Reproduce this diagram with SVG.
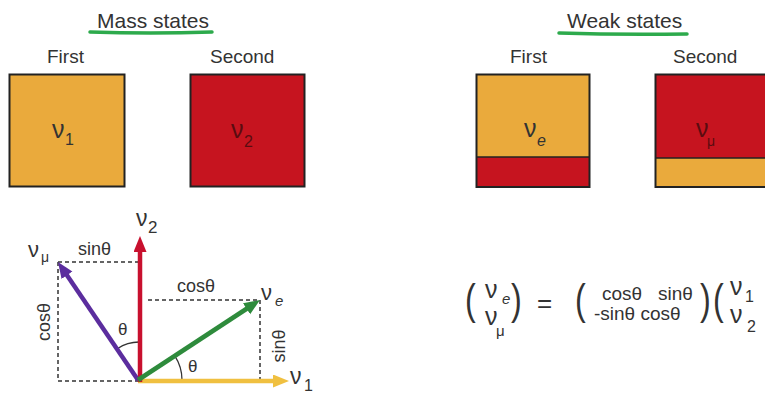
<svg xmlns="http://www.w3.org/2000/svg" width="765" height="394" viewBox="0 0 765 394">
<style>
  text { font-family: "Liberation Sans", Arial, sans-serif; fill: #333; }
  .title { font-size: 21px; }
  .hdr { font-size: 19px; }
  .nu { font-size: 25px; }
  .sub { font-size: 16px; }
  .it { font-style: italic; }
  .lbl { font-size: 18px; }
  .mat { font-size: 19px; }
  .box { stroke: #222; stroke-width: 2; }
  .orange { fill: #EAAA3C; }
  .red { fill: #C6141F; }
  .dash { fill: none; stroke: #333; stroke-width: 1.5; stroke-dasharray: 4 3; }
  .arc { fill: none; stroke: #333; stroke-width: 1.3; }
  .ul { fill: none; stroke: #2DAA4C; stroke-width: 3.5; stroke-linecap: round; }
  .vec { fill: none; stroke-width: 4.5; }
  .par { font-size: 38px; }
</style>
<defs>
  <marker id="hY" markerUnits="userSpaceOnUse" markerWidth="18" markerHeight="14" refX="6" refY="6.5" orient="auto"><path d="M0,0 L16,6.5 L0,13 z" fill="#F0C040"/></marker>
  <marker id="hR" markerUnits="userSpaceOnUse" markerWidth="18" markerHeight="14" refX="6" refY="6.5" orient="auto"><path d="M0,0 L16,6.5 L0,13 z" fill="#C8102E"/></marker>
  <marker id="hP" markerUnits="userSpaceOnUse" markerWidth="18" markerHeight="14" refX="6" refY="6.5" orient="auto"><path d="M0,0 L16,6.5 L0,13 z" fill="#5B2D9E"/></marker>
  <marker id="hG" markerUnits="userSpaceOnUse" markerWidth="18" markerHeight="14" refX="6" refY="6.5" orient="auto"><path d="M0,0 L16,6.5 L0,13 z" fill="#2E8B3C"/></marker>
</defs>
<rect width="765" height="394" fill="#FFFFFF"/>

<g id="mass-title">
  <text class="title" x="97" y="28">Mass states</text>
  <path class="ul" d="M90,32 Q150,34 212,32"/>
</g>
<g id="weak-title">
  <text class="title" x="567" y="28">Weak states</text>
  <path class="ul" d="M559,33 Q620,35 687,34"/>
</g>

<g id="mass-first">
  <text class="hdr" x="47" y="63">First</text>
  <rect class="box orange" x="9.5" y="74.5" width="115" height="112"/>
  <text class="nu" x="52" y="138">ν</text><text class="sub" x="65" y="145">1</text>
</g>
<g id="mass-second">
  <text class="hdr" x="210" y="63">Second</text>
  <rect class="box red" x="190.5" y="74.5" width="114" height="112"/>
  <text class="nu" x="231" y="138" style="fill:#5a0c10">ν</text><text class="sub" x="244" y="147" style="fill:#5a0c10">2</text>
</g>
<g id="weak-first">
  <text class="hdr" x="510" y="63">First</text>
  <rect class="orange" x="476" y="75" width="114" height="82"/>
  <rect class="red" x="476" y="157" width="114" height="30"/>
  <line x1="476" y1="157" x2="590" y2="157" stroke="#222" stroke-width="1.5"/>
  <rect class="box" fill="none" x="476.5" y="74.5" width="113" height="112.5"/>
  <text class="nu" x="524" y="137">ν</text><text class="sub it" x="537" y="146">e</text>
</g>
<g id="weak-second">
  <text class="hdr" x="673" y="63">Second</text>
  <rect class="red" x="655" y="75" width="115" height="83"/>
  <rect class="orange" x="655" y="158" width="115" height="29"/>
  <line x1="655" y1="158" x2="770" y2="158" stroke="#222" stroke-width="1.5"/>
  <rect class="box" fill="none" x="655.5" y="74.5" width="120" height="112.5"/>
  <text class="nu" x="696" y="137" style="fill:#5a0c10">ν</text><text class="sub" x="707" y="146" style="font-size:14px;fill:#5a0c10">μ</text>
</g>

<g id="projections">
  <path class="dash" d="M58,262 H138 M58,262 V381 H138"/>
  <path class="dash" d="M148,300 H260 V380"/>
  <path class="arc" d="M117.7,348.5 A38,38 0 0 1 139,342"/>
  <path class="arc" d="M182,380 A44,44 0 0 0 174.8,355.9"/>
</g>

<g id="connectors">
  <line class="vec" x1="138" y1="381" x2="279" y2="381" stroke="#F0C040" marker-end="url(#hY)"/>
  <line class="vec" x1="140" y1="382" x2="140" y2="246" stroke="#C8102E" marker-end="url(#hR)"/>
  <line class="vec" x1="138" y1="380" x2="63.6" y2="270.3" stroke="#5B2D9E" marker-end="url(#hP)"/>
  <line class="vec" x1="138" y1="380" x2="251.6" y2="305.5" stroke="#2E8B3C" marker-end="url(#hG)"/>
</g>

<g id="vector-labels">
  <text class="nu" x="136" y="226" style="font-size:23px">ν</text><text class="sub" x="148" y="233" style="font-size:17px">2</text>
  <text class="nu" x="28" y="257" style="font-size:22px">ν</text><text class="sub" x="41" y="262" style="font-size:14px">μ</text>
  <text class="lbl" x="78" y="255">sinθ</text>
  <text class="lbl" x="177" y="292">cosθ</text>
  <text class="nu" x="261" y="300" style="font-size:22px">ν</text><text class="sub it" x="275" y="306" style="font-size:15px">e</text>
  <text class="nu" x="290" y="384" style="font-size:23px">ν</text><text class="sub" x="304" y="391">1</text>
  <text class="lbl" text-anchor="middle" transform="translate(50,322) rotate(-90)">cosθ</text>
  <text class="lbl" text-anchor="middle" transform="translate(285,346) rotate(-90)">sinθ</text>
  <text class="lbl" x="118" y="335" style="font-size:17px">θ</text>
  <text class="lbl" x="188" y="372" style="font-size:17px">θ</text>
</g>

<g id="equation">
  <text class="par" transform="translate(465,314) scale(0.85,1.1)">(</text>
  <text class="nu" x="485" y="298">ν</text><text class="sub it" x="502" y="304" style="font-size:15px">e</text>
  <text class="nu" x="485" y="325">ν</text><text class="sub" x="496" y="336" style="font-size:15px">μ</text>
  <text class="par" transform="translate(511,314) scale(0.85,1.1)">)</text>
  <text x="537" y="312" style="font-size:26px">=</text>
  <text class="par" transform="translate(575,314) scale(0.85,1.1)">(</text>
  <text class="mat" x="602" y="300">cosθ</text>
  <text class="mat" x="658" y="300">sinθ</text>
  <text class="mat" x="594" y="320">-sinθ cosθ</text>
  <text class="par" transform="translate(700,314) scale(0.85,1.1)">)</text>
  <text class="par" transform="translate(713,314) scale(0.85,1.1)">(</text>
  <text class="nu" x="730" y="295">ν</text><text class="sub" x="745" y="302">1</text>
  <text class="nu" x="730" y="323">ν</text><text class="sub" x="747" y="332">2</text>
</g>
</svg>
